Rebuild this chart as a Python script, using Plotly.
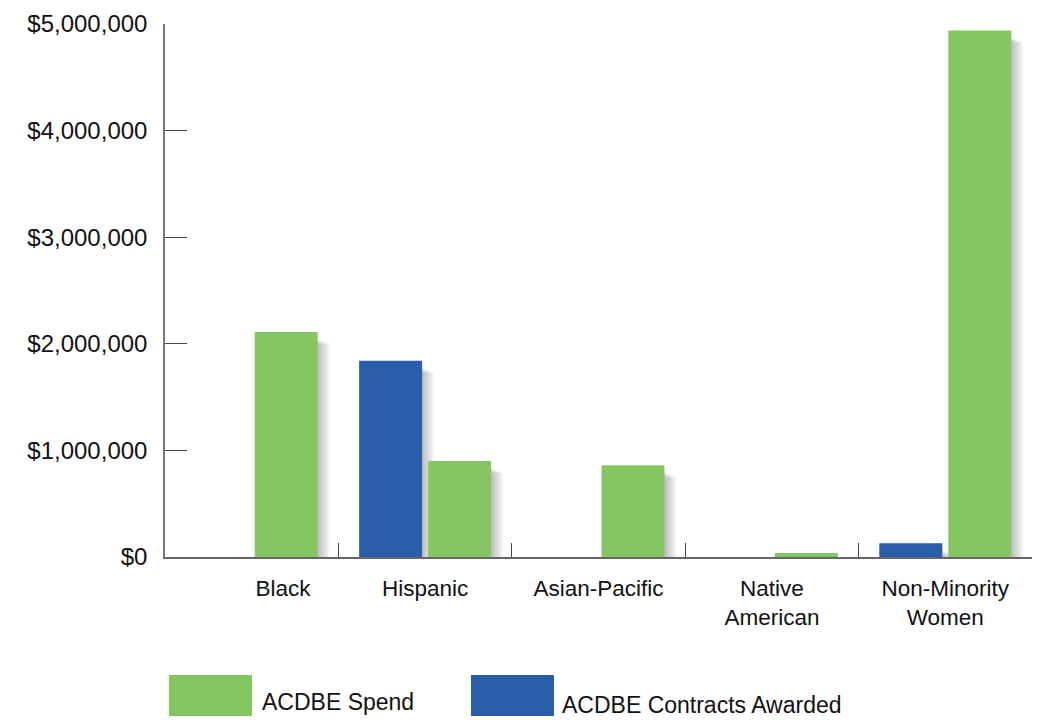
import plotly.graph_objects as go

categories = ["Black", "Hispanic", "Asian-Pacific", "Native American", "Non-Minority Women"]
tick_labels = ["\u00a0" * 10 + "Black", "Hispanic", "Asian-Pacific", "Native<br>American", "Non-Minority<br>Women"]
spend = [2110000, 900000, 860000, 38000, 4940000]
awarded = [0, 1840000, 0, 0, 130000]
y_ticks = [0, 1000000, 2000000, 3000000, 4000000, 5000000]
y_tick_labels = ["$0", "$1,000,000", "$2,000,000", "$3,000,000", "$4,000,000", "$5,000,000"]

GREEN = "#85C663"
BLUE = "#2A5EAB"
FONT = "Liberation Sans, Arial, Helvetica, sans-serif"

W, H = 1056, 720
L, R, T, B = 165, 24, 24, 163
plot_w = W - L - R
plot_h = H - T - B
cat_px = plot_w / len(categories)
ymax = 5000000
px_y = ymax / plot_h

bar_w = 63 / cat_px
off_blue = -66 / cat_px
off_green = 3 / cat_px

fig = go.Figure()

# soft drop shadows
for series, off in ((awarded, off_blue), (spend, off_green)):
    for k in range(1, 7):
        fig.add_trace(go.Bar(
            x=categories,
            y=[max(v - (6 + k) * px_y, 0) if v > 0 else 0 for v in series],
            offset=off + (k * 2) / cat_px, width=bar_w,
            marker=dict(color="rgba(0,0,0,0.045)", line=dict(width=0)),
            showlegend=False, hoverinfo="skip"))

fig.add_trace(go.Bar(x=categories, y=awarded, name="ACDBE Contracts Awarded",
                     offset=off_blue, width=bar_w,
                     marker=dict(color=BLUE, line=dict(width=0)), showlegend=False))
fig.add_trace(go.Bar(x=categories, y=spend, name="ACDBE Spend",
                     offset=off_green, width=bar_w,
                     marker=dict(color=GREEN, line=dict(width=0)), showlegend=False))

fig.update_layout(
    width=W, height=H,
    margin=dict(l=L, r=R, t=T, b=B, pad=0, autoexpand=False),
    barmode="overlay",
    plot_bgcolor="white", paper_bgcolor="white",
    font=dict(family=FONT, size=22, color="#111111"),
    showlegend=False,
)
fig.update_xaxes(
    type="category", range=[-0.5, 4.5], automargin=False,
    tickvals=categories, ticktext=tick_labels,
    tickson="boundaries", ticks="inside", ticklen=14, tickcolor="#444444", tickwidth=1,
    showline=True, linecolor="#666666", linewidth=1.5,
    showgrid=False, zeroline=False,
    ticklabelstandoff=10,
    tickfont=dict(size=22.5, family=FONT, color="#111111"),
)
fig.update_yaxes(
    range=[0, ymax], automargin=False, tickmode="array", tickvals=y_ticks, ticktext=y_tick_labels,
    ticks="inside", ticklen=22, tickcolor="#444444", tickwidth=1,
    showline=True, linecolor="#777777", linewidth=1.5,
    showgrid=False, zeroline=False,
    ticklabelstandoff=11,
    tickfont=dict(size=24, family=FONT, color="#111111"),
)

def px2paper_x(px):
    return (px - L) / plot_w

def px2paper_y(py):
    return (H - B - py) / plot_h

legend_items = [("ACDBE Spend", GREEN, 169, 252, 260, 702),
                ("ACDBE Contracts Awarded", BLUE, 471, 554, 560, 705)]
for label, color, x0, x1, tx, ty in legend_items:
    fig.add_shape(type="rect", xref="paper", yref="paper",
                  x0=px2paper_x(x0), x1=px2paper_x(x1),
                  y0=px2paper_y(675), y1=px2paper_y(716),
                  fillcolor=color, line=dict(width=0))
    fig.add_annotation(text=label, xref="paper", yref="paper",
                       x=px2paper_x(tx), y=px2paper_y(ty),
                       xanchor="left", yanchor="middle", showarrow=False,
                       font=dict(size=23, family=FONT, color="#111111"))

fig.write_html("out.html")
